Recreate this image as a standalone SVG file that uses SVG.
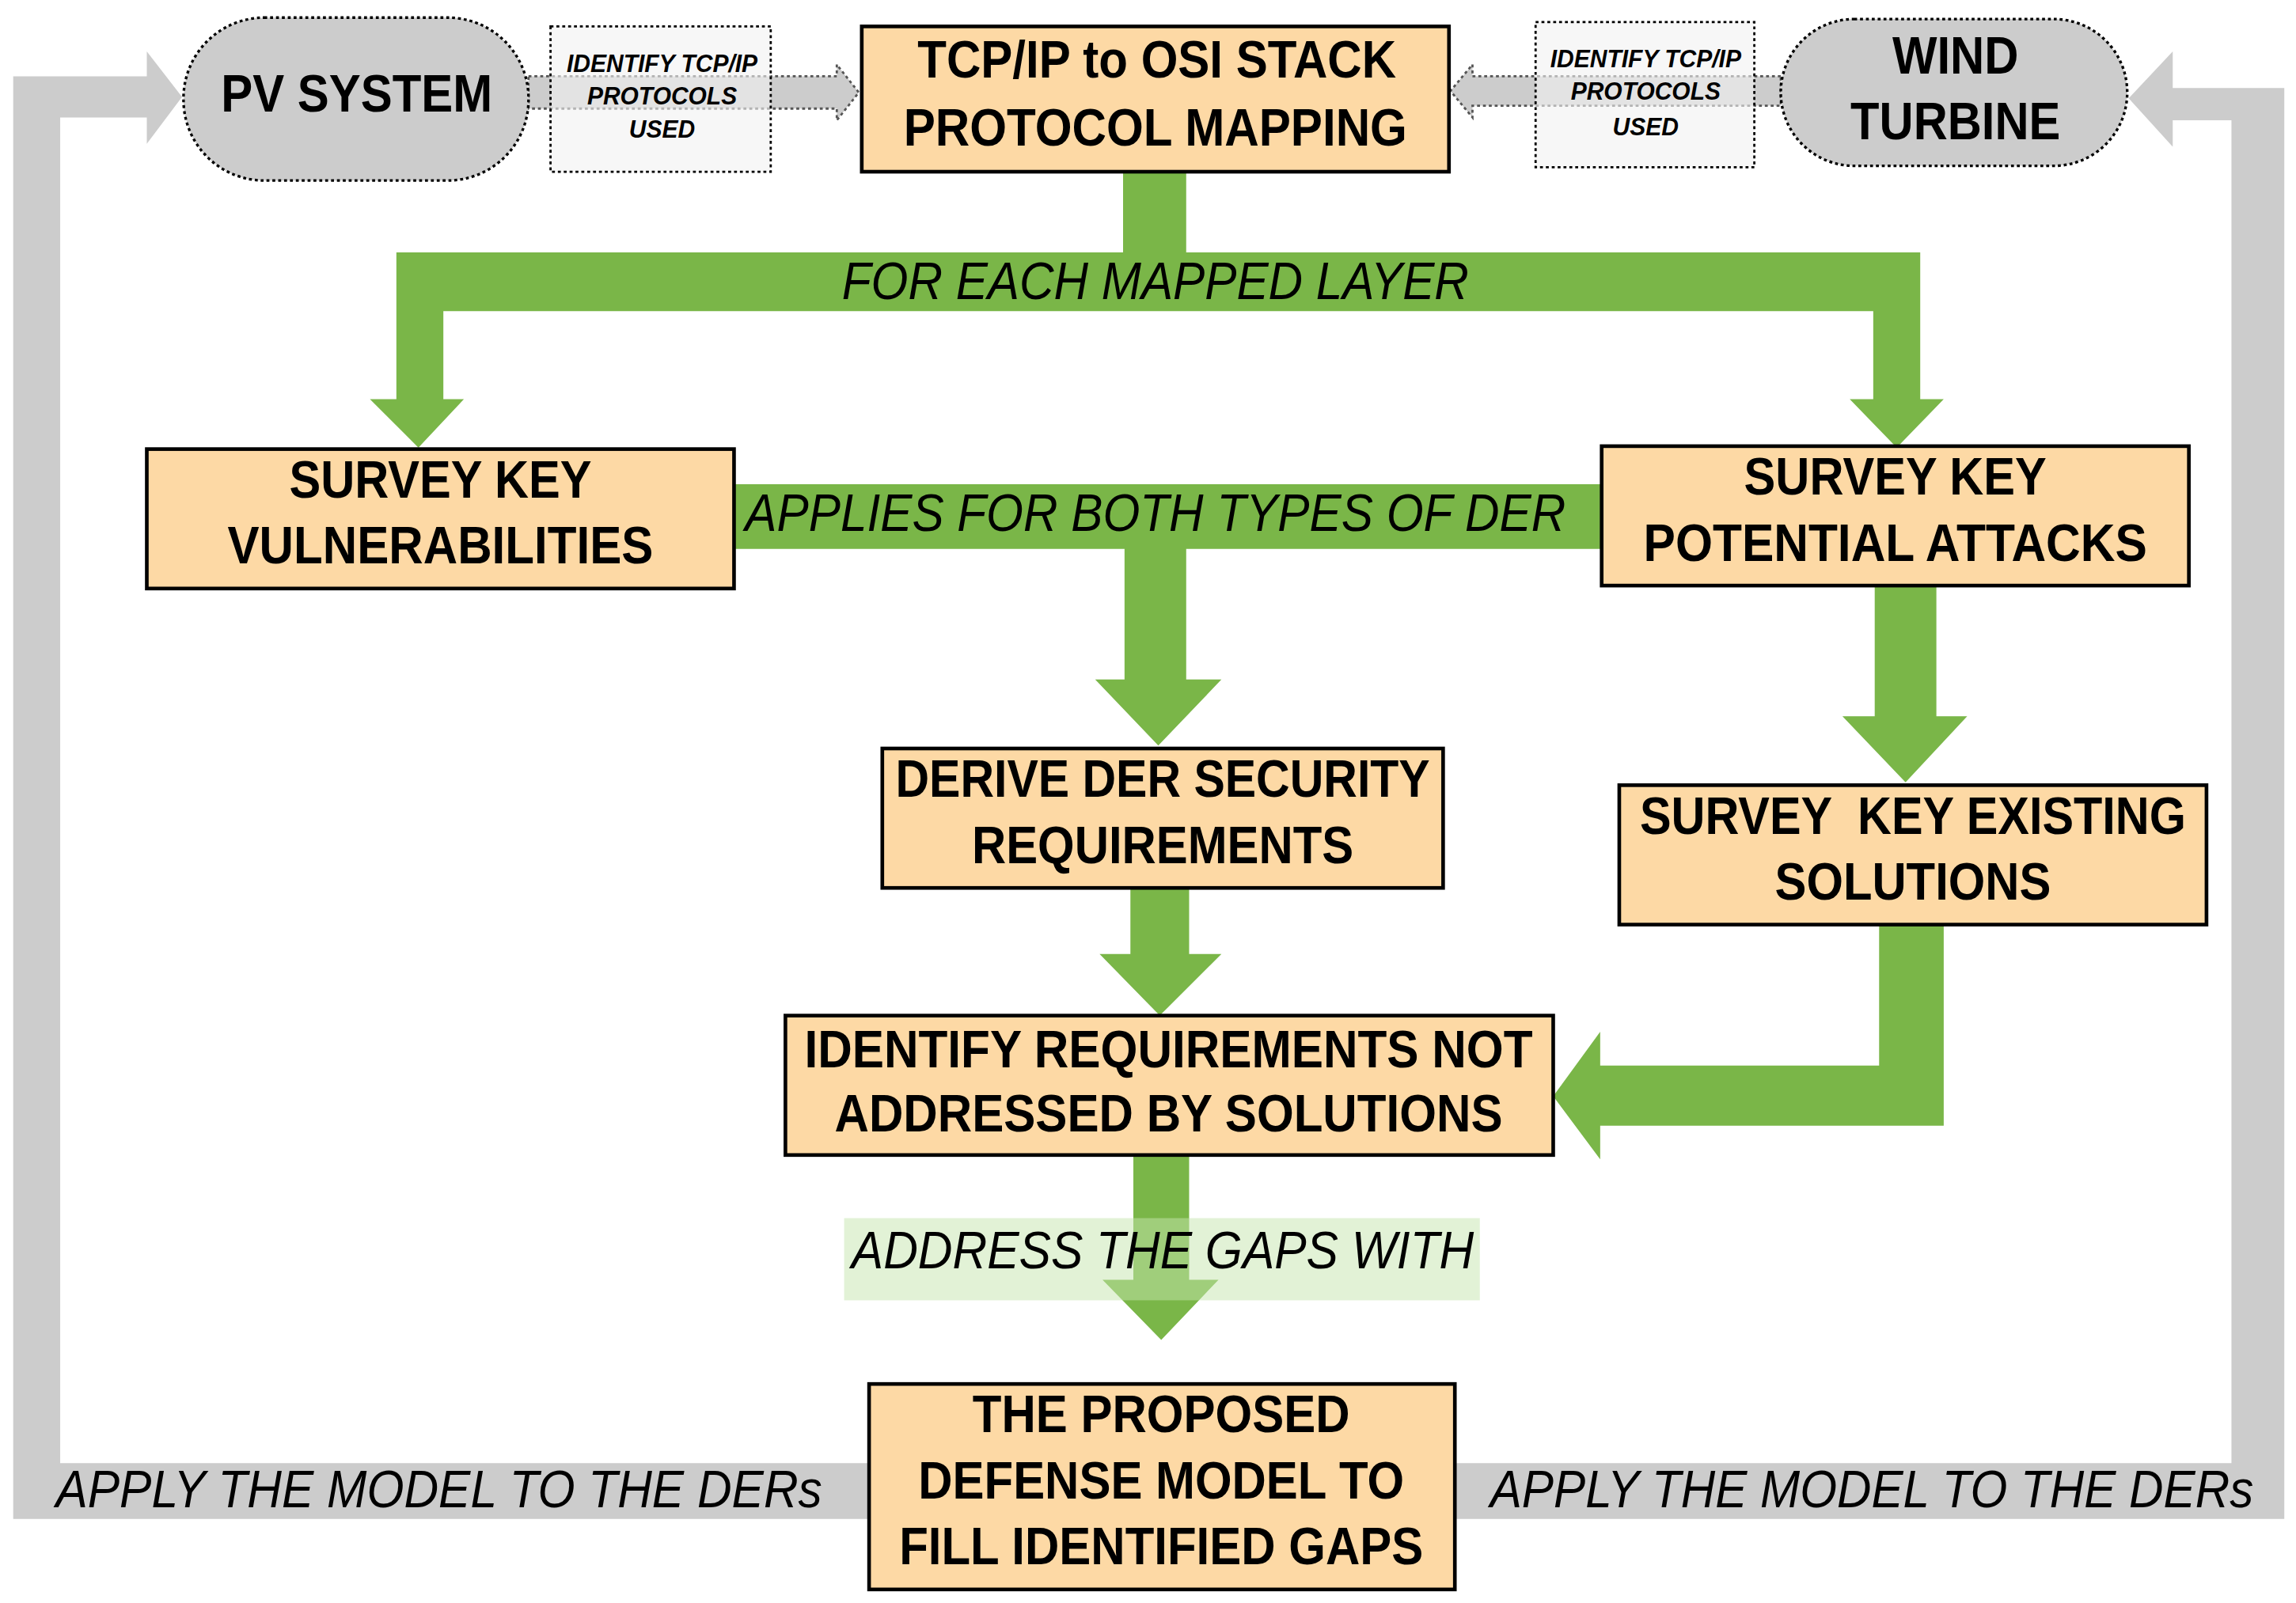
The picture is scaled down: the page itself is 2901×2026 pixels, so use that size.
<svg xmlns="http://www.w3.org/2000/svg" width="2901" height="2026" viewBox="0 0 2901 2026">
<style>
.box{fill:#fdd9a5;stroke:#000;stroke-width:2.5}
.pill{fill:#cccccc;stroke:#000;stroke-width:1.8;stroke-dasharray:2 2}
.dbox{fill:#f2f2f2;stroke:#000;stroke-width:1.5;stroke-dasharray:2 2}
.g{fill:#7ab648}
.gr{fill:#cccccc}
.t{font-family:"Liberation Sans",Arial,sans-serif;font-weight:bold;font-size:36px;text-anchor:middle;fill:#000}
.i{font-family:"Liberation Sans",Arial,sans-serif;font-style:italic;font-size:36px;text-anchor:middle;fill:#000}
.s{font-family:"Liberation Sans",Arial,sans-serif;font-style:italic;font-weight:bold;font-size:17px;text-anchor:middle;fill:#000}
</style>
<rect width="2901" height="2026" fill="#fff"/>
<g transform="scale(1.8549)">
<g id="connectors">
<path class="gr" d="M9,1035 V52 H100 V35 L124,66 L100,98 V80 H41 V997 H592 V1035 Z"/>
<path class="gr" d="M1556,1035 V60 H1480 V35 L1450,67 L1480,100 V82 H1520 V997 H992 V1035 Z"/>
<text class="i" x="299" y="1027" textLength="522" lengthAdjust="spacingAndGlyphs">APPLY THE MODEL TO THE DERs</text>
<text class="i" x="1275" y="1027" textLength="520" lengthAdjust="spacingAndGlyphs">APPLY THE MODEL TO THE DERs</text>
<path class="gr" d="M360,52 H570 V44 L585,63 L570,82 V74 H360 Z" stroke="#555" stroke-width="1.5" stroke-dasharray="2 2"/>
<path class="gr" d="M1213,52 H1003 V44 L988,62 L1003,80 V72 H1213 Z" stroke="#555" stroke-width="1.5" stroke-dasharray="2 2"/>
<path class="g" d="M765,117 H808 V172 H1308 V272 H1324 L1292,305 L1260,272 H1276 V212 H302 V272 H316 L285,305 L252,272 H270 V212 V172 H765 Z"/>
<text class="i" x="787" y="204" textLength="427" lengthAdjust="spacingAndGlyphs">FOR EACH MAPPED LAYER</text>
<path class="g" d="M500,330 H1092 V374 H808 V463 H832 L789,508 L746,463 H766 V374 H500 Z"/>
<text class="i" x="787" y="362" textLength="559" lengthAdjust="spacingAndGlyphs">APPLIES FOR BOTH TYPES OF DER</text>
<path class="g" d="M770,605 H810 V650 H832 L790,692 L749,650 H770 Z"/>
<path class="g" d="M1277,399 H1319 V488 H1340 L1298,533 L1255,488 H1277 Z"/>
<path class="g" d="M1280,630 H1324 V767 H1090 V790 L1058,747 L1090,703 V726 H1280 Z"/>
<path class="g" d="M772,787 H810 V872 H830 L791,913 L751,872 H772 Z"/>
<rect x="575" y="830" width="433" height="56" fill="#c5e6ad" opacity="0.5"/>
<text class="i" x="792" y="864" textLength="424" lengthAdjust="spacingAndGlyphs">ADDRESS THE GAPS WITH</text>
</g>
<g id="pv">
<rect class="pill" x="125" y="12" width="235" height="111" rx="55"/>
<text class="t" x="243" y="76" textLength="185" lengthAdjust="spacingAndGlyphs">PV SYSTEM</text>
</g>
<g id="id-left">
<rect class="dbox" x="375" y="18" width="150" height="99" fill-opacity="0.6"/>
<text class="s" x="451" y="49" textLength="130" lengthAdjust="spacingAndGlyphs">IDENTIFY TCP/IP</text>
<text class="s" x="451" y="71" textLength="102" lengthAdjust="spacingAndGlyphs">PROTOCOLS</text>
<text class="s" x="451" y="94" textLength="45" lengthAdjust="spacingAndGlyphs">USED</text>
</g>
<g id="tcp">
<rect class="box" x="587" y="18" width="400" height="99"/>
<text class="t" x="788" y="53" textLength="326" lengthAdjust="spacingAndGlyphs">TCP/IP to OSI STACK</text>
<text class="t" x="787" y="99" textLength="343" lengthAdjust="spacingAndGlyphs">PROTOCOL MAPPING</text>
</g>
<g id="id-right">
<rect class="dbox" x="1046" y="15" width="149" height="99" fill-opacity="0.6"/>
<text class="s" x="1121" y="46" textLength="130" lengthAdjust="spacingAndGlyphs">IDENTIFY TCP/IP</text>
<text class="s" x="1121" y="68" textLength="102" lengthAdjust="spacingAndGlyphs">PROTOCOLS</text>
<text class="s" x="1121" y="92" textLength="45" lengthAdjust="spacingAndGlyphs">USED</text>
</g>
<g id="wind">
<rect class="pill" x="1213" y="13" width="236" height="100" rx="50"/>
<text class="t" x="1332" y="50" textLength="86" lengthAdjust="spacingAndGlyphs">WIND</text>
<text class="t" x="1332" y="95" textLength="143" lengthAdjust="spacingAndGlyphs">TURBINE</text>
</g>
<g id="vuln">
<rect class="box" x="100" y="306" width="400" height="95"/>
<text class="t" x="300" y="339" textLength="206" lengthAdjust="spacingAndGlyphs">SURVEY KEY</text>
<text class="t" x="300" y="384" textLength="290" lengthAdjust="spacingAndGlyphs">VULNERABILITIES</text>
</g>
<g id="attacks">
<rect class="box" x="1091" y="304" width="400" height="95"/>
<text class="t" x="1291" y="337" textLength="206" lengthAdjust="spacingAndGlyphs">SURVEY KEY</text>
<text class="t" x="1291" y="382" textLength="343" lengthAdjust="spacingAndGlyphs">POTENTIAL ATTACKS</text>
</g>
<g id="derive">
<rect class="box" x="601" y="510" width="382" height="95"/>
<text class="t" x="792" y="543" textLength="364" lengthAdjust="spacingAndGlyphs">DERIVE DER SECURITY</text>
<text class="t" x="792" y="588" textLength="260" lengthAdjust="spacingAndGlyphs">REQUIREMENTS</text>
</g>
<g id="existing">
<rect class="box" x="1103" y="535" width="400" height="95"/>
<text class="t" x="1303" y="568" textLength="372" lengthAdjust="spacingAndGlyphs" xml:space="preserve">SURVEY  KEY EXISTING</text>
<text class="t" x="1303" y="613" textLength="188" lengthAdjust="spacingAndGlyphs">SOLUTIONS</text>
</g>
<g id="identify">
<rect class="box" x="535" y="692" width="523" height="95"/>
<text class="t" x="796" y="727" textLength="496" lengthAdjust="spacingAndGlyphs">IDENTIFY REQUIREMENTS NOT</text>
<text class="t" x="796" y="771" textLength="455" lengthAdjust="spacingAndGlyphs">ADDRESSED BY SOLUTIONS</text>
</g>
<g id="proposed">
<rect class="box" x="592" y="943" width="399" height="140"/>
<text class="t" x="791" y="976" textLength="257" lengthAdjust="spacingAndGlyphs">THE PROPOSED</text>
<text class="t" x="791" y="1021" textLength="331" lengthAdjust="spacingAndGlyphs">DEFENSE MODEL TO</text>
<text class="t" x="791" y="1066" textLength="357" lengthAdjust="spacingAndGlyphs">FILL IDENTIFIED GAPS</text>
</g>
</g>
</svg>
